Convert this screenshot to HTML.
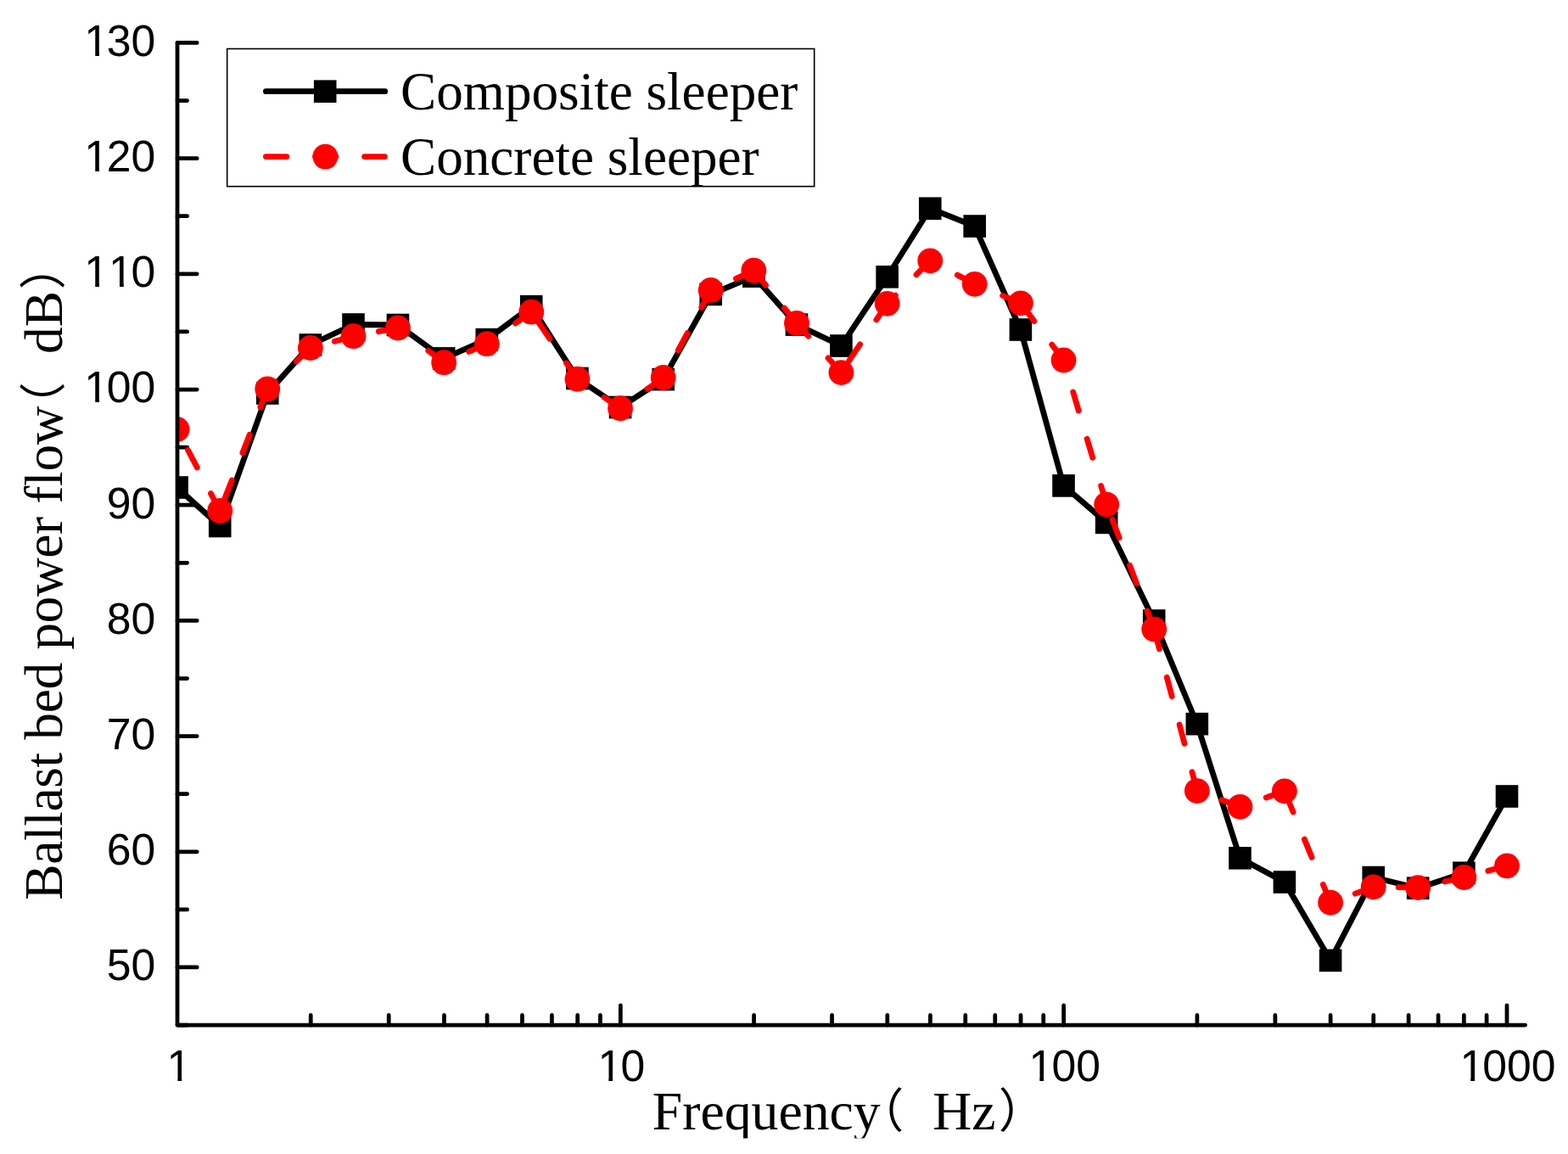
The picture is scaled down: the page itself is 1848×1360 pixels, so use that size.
<!DOCTYPE html>
<html lang="en"><head><meta charset="utf-8"><title>Ballast bed power flow</title>
<style>
html,body{margin:0;padding:0;background:#fff;}
body{width:1848px;height:1360px;overflow:hidden;}
svg{display:block;}
.tk{font-family:"Liberation Sans",sans-serif;font-size:51.7px;fill:#000;font-kerning:none;}
.sf{font-family:"Liberation Serif","Noto Serif CJK SC",serif;fill:#000;font-variant-ligatures:none;font-kerning:none;}
.cj{font-family:"Noto Sans CJK SC","Liberation Serif",sans-serif;}
.ax{stroke:#000;stroke-width:4.75;fill:none;stroke-linecap:round;stroke-linejoin:round;}
.bl{stroke:#000;stroke-width:6.8;fill:none;stroke-linecap:round;stroke-linejoin:round;}
.rl{stroke:#f00;stroke-width:6.8;fill:none;stroke-linecap:round;stroke-linejoin:round;}
</style></head><body>
<svg width="1848" height="1360" viewBox="0 0 1848 1360">
<rect width="1848" height="1360" fill="#fff"/>
<defs><clipPath id="plot"><rect x="209" y="0" width="1639" height="1208.07"/></clipPath></defs>
<g class="ax">
<path d="M209 1208.07h11.6 M209 1139.97h23.2 M209 1071.88h11.6 M209 1003.78h23.2 M209 935.69h11.6 M209 867.59h23.2 M209 799.5h11.6 M209 731.4h23.2 M209 663.31h11.6 M209 595.21h23.2 M209 527.12h11.6 M209 459.02h23.2 M209 390.93h11.6 M209 322.83h23.2 M209 254.74h11.6 M209 186.64h23.2 M209 118.55h11.6 M209 50.45h23.2 M366.24 1208.07v-11.6 M458.21 1208.07v-11.6 M523.47 1208.07v-11.6 M574.09 1208.07v-11.6 M615.45 1208.07v-11.6 M650.42 1208.07v-11.6 M680.71 1208.07v-11.6 M707.43 1208.07v-11.6 M731.33 1208.07v-23.2 M888.57 1208.07v-11.6 M980.54 1208.07v-11.6 M1045.8 1208.07v-11.6 M1096.42 1208.07v-11.6 M1137.78 1208.07v-11.6 M1172.75 1208.07v-11.6 M1203.04 1208.07v-11.6 M1229.76 1208.07v-11.6 M1253.66 1208.07v-23.2 M1410.9 1208.07v-11.6 M1502.87 1208.07v-11.6 M1568.13 1208.07v-11.6 M1618.75 1208.07v-11.6 M1660.11 1208.07v-11.6 M1695.08 1208.07v-11.6 M1725.37 1208.07v-11.6 M1752.09 1208.07v-11.6 M1775.99 1208.07v-23.2"/>
</g>
<g clip-path="url(#plot)">
<polyline class="bl" points="208.6,574.5 259.23,620 315.25,463.5 365.88,406.5 416.51,382.5 468.95,383 523.16,422.4 573.79,400.2 626.23,361.2 680.44,446 731.07,480 781.7,447.1 837.72,346.9 888.35,325.6 938.98,382.6 991.42,407.55 1045.63,326.3 1096.26,245.7 1148.7,266.55 1202.91,388.5 1253.54,572.4 1304.17,615.9 1360.19,731.55 1410.82,853.2 1461.45,1011.3 1513.89,1039.55 1568.1,1131.9 1618.73,1034.05 1671.17,1046.7 1725.38,1028.75 1776.01,938.5"/>
<g fill="#000">
<rect x="195.3" y="561.2" width="26.6" height="26.6"/>
<rect x="245.93" y="606.7" width="26.6" height="26.6"/>
<rect x="301.95" y="450.2" width="26.6" height="26.6"/>
<rect x="352.58" y="393.2" width="26.6" height="26.6"/>
<rect x="403.21" y="369.2" width="26.6" height="26.6"/>
<rect x="455.65" y="369.7" width="26.6" height="26.6"/>
<rect x="509.86" y="409.1" width="26.6" height="26.6"/>
<rect x="560.49" y="386.9" width="26.6" height="26.6"/>
<rect x="612.93" y="347.9" width="26.6" height="26.6"/>
<rect x="667.14" y="432.7" width="26.6" height="26.6"/>
<rect x="717.77" y="466.7" width="26.6" height="26.6"/>
<rect x="768.4" y="433.8" width="26.6" height="26.6"/>
<rect x="824.42" y="333.6" width="26.6" height="26.6"/>
<rect x="875.05" y="312.3" width="26.6" height="26.6"/>
<rect x="925.68" y="369.3" width="26.6" height="26.6"/>
<rect x="978.12" y="394.25" width="26.6" height="26.6"/>
<rect x="1032.33" y="313" width="26.6" height="26.6"/>
<rect x="1082.96" y="232.4" width="26.6" height="26.6"/>
<rect x="1135.4" y="253.25" width="26.6" height="26.6"/>
<rect x="1189.61" y="375.2" width="26.6" height="26.6"/>
<rect x="1240.24" y="559.1" width="26.6" height="26.6"/>
<rect x="1290.87" y="602.6" width="26.6" height="26.6"/>
<rect x="1346.89" y="718.25" width="26.6" height="26.6"/>
<rect x="1397.52" y="839.9" width="26.6" height="26.6"/>
<rect x="1448.15" y="998" width="26.6" height="26.6"/>
<rect x="1500.59" y="1026.25" width="26.6" height="26.6"/>
<rect x="1554.8" y="1118.6" width="26.6" height="26.6"/>
<rect x="1605.43" y="1020.75" width="26.6" height="26.6"/>
<rect x="1657.87" y="1033.4" width="26.6" height="26.6"/>
<rect x="1712.08" y="1015.45" width="26.6" height="26.6"/>
<rect x="1762.71" y="925.2" width="26.6" height="26.6"/>
</g>
<path class="rl" stroke-dasharray="23 34.7" d="M1776.01 1020.35L1725.38 1034M1725.38 1034L1671.17 1046.05M1671.17 1046.05L1618.73 1045.3M1618.73 1045.3L1568.1 1063.75M1568.1 1063.75L1513.89 932.3M1513.89 932.3L1461.45 950.8M1461.45 950.8L1410.82 932.05M1410.82 932.05L1360.19 741.55M1360.19 741.55L1304.17 594.55M1304.17 594.55L1253.54 424.5M1253.54 424.5L1202.91 357.3M1202.91 357.3L1148.7 334.8M1148.7 334.8L1096.26 307.3M1096.26 307.3L1045.63 357.8M1045.63 357.8L991.42 439.05M991.42 439.05L938.98 380.9M938.98 380.9L888.35 318.75M888.35 318.75L837.72 341.95M837.72 341.95L781.7 445M781.7 445L731.07 481.25M731.07 481.25L680.44 446.75M680.44 446.75L626.23 367.7M626.23 367.7L573.79 405.2M573.79 405.2L523.16 427.2M523.16 427.2L468.95 386.5M468.95 386.5L416.51 396.25M416.51 396.25L365.88 410M365.88 410L315.25 458.4M315.25 458.4L259.23 601.9M259.23 601.9L208.6 506"/>
<g fill="#f00">
<circle cx="208.6" cy="506" r="14.9"/>
<circle cx="259.23" cy="601.9" r="14.9"/>
<circle cx="315.25" cy="458.4" r="14.9"/>
<circle cx="365.88" cy="410" r="14.9"/>
<circle cx="416.51" cy="396.25" r="14.9"/>
<circle cx="468.95" cy="386.5" r="14.9"/>
<circle cx="523.16" cy="427.2" r="14.9"/>
<circle cx="573.79" cy="405.2" r="14.9"/>
<circle cx="626.23" cy="367.7" r="14.9"/>
<circle cx="680.44" cy="446.75" r="14.9"/>
<circle cx="731.07" cy="481.25" r="14.9"/>
<circle cx="781.7" cy="445" r="14.9"/>
<circle cx="837.72" cy="341.95" r="14.9"/>
<circle cx="888.35" cy="318.75" r="14.9"/>
<circle cx="938.98" cy="380.9" r="14.9"/>
<circle cx="991.42" cy="439.05" r="14.9"/>
<circle cx="1045.63" cy="357.8" r="14.9"/>
<circle cx="1096.26" cy="307.3" r="14.9"/>
<circle cx="1148.7" cy="334.8" r="14.9"/>
<circle cx="1202.91" cy="357.3" r="14.9"/>
<circle cx="1253.54" cy="424.5" r="14.9"/>
<circle cx="1304.17" cy="594.55" r="14.9"/>
<circle cx="1360.19" cy="741.55" r="14.9"/>
<circle cx="1410.82" cy="932.05" r="14.9"/>
<circle cx="1461.45" cy="950.8" r="14.9"/>
<circle cx="1513.89" cy="932.3" r="14.9"/>
<circle cx="1568.1" cy="1063.75" r="14.9"/>
<circle cx="1618.73" cy="1045.3" r="14.9"/>
<circle cx="1671.17" cy="1046.05" r="14.9"/>
<circle cx="1725.38" cy="1034" r="14.9"/>
<circle cx="1776.01" cy="1020.35" r="14.9"/>
</g>
</g>
<path class="ax" d="M209 50.45V1208.07H1797.61"/>
<defs><clipPath id="c1"><rect x="-10" y="-60" width="260" height="55.54"/><rect x="15.3" y="-8" width="4.77" height="12"/><rect x="29.55" y="-8" width="240" height="12"/></clipPath><clipPath id="c11"><rect x="-10" y="-60" width="260" height="55.54"/><rect x="15.3" y="-8" width="4.77" height="12"/><rect x="44.05" y="-8" width="4.77" height="12"/><rect x="58.31" y="-8" width="240" height="12"/></clipPath><clipPath id="c2"><rect x="-10" y="-60" width="260" height="55.54"/><rect x="14.7" y="-8" width="4.77" height="12"/><rect x="29.55" y="-8" width="240" height="12"/></clipPath></defs>
<text class="tk" x="125.69" y="1155.32">50</text>
<text class="tk" x="125.69" y="1019.13">60</text>
<text class="tk" x="125.69" y="882.94">70</text>
<text class="tk" x="125.69" y="746.75">80</text>
<text class="tk" x="125.69" y="610.56">90</text>
<g transform="translate(96.94 474.37)" clip-path="url(#c1)"><text class="tk" x="0" y="0" dx="2.4 -2.4">100</text></g>
<g transform="translate(96.94 338.18)" clip-path="url(#c11)"><text class="tk" x="0" y="0" dx="2.4 0 -2.4">110</text></g>
<g transform="translate(96.94 201.99)" clip-path="url(#c1)"><text class="tk" x="0" y="0" dx="2.4 -2.4">120</text></g>
<g transform="translate(96.94 65.8)" clip-path="url(#c1)"><text class="tk" x="0" y="0" dx="2.4 -2.4">130</text></g>
<g transform="translate(194.72 1273.8)" clip-path="url(#c2)"><text class="tk" x="0" y="0" dx="1.8">1</text></g>
<g transform="translate(702.68 1273.8)" clip-path="url(#c2)"><text class="tk" x="0" y="0" dx="1.8 -1.8">10</text></g>
<g transform="translate(1210.63 1273.8)" clip-path="url(#c2)"><text class="tk" x="0" y="0" dx="1.8 -1.8">100</text></g>
<g transform="translate(1718.58 1273.8)" clip-path="url(#c2)"><text class="tk" x="0" y="0" dx="1.8 -1.8">1000</text></g>
<defs><clipPath id="cx"><rect x="700" y="1260" width="600" height="81.6"/></clipPath></defs>
<text class="sf" clip-path="url(#cx)" font-size="63.7" y="1330.7" xml:space="preserve"><tspan x="768.8">Frequency</tspan><tspan class="cj" font-size="55.3" x="1010.07" y="1328.7">（</tspan><tspan x="1083.44" y="1330.7"> Hz</tspan><tspan class="cj" font-size="55.3" x="1176.73" y="1328.7">）</tspan></text>
<g transform="translate(73.2 1060.7) rotate(-90)"><text class="sf" font-size="63.4" y="0" xml:space="preserve"><tspan x="0" textLength="582.2" lengthAdjust="spacing">Ballast bed power flow</tspan><tspan class="cj" font-size="55.3" x="555.27" y="-2.0">（</tspan><tspan x="627.93" y="0"> dB</tspan><tspan class="cj" font-size="55.3" x="719.53" y="-2.0">）</tspan></text></g>
<rect x="267.7" y="57.5" width="692" height="162.2" fill="#fff" stroke="#000" stroke-width="1.6"/>
<path class="bl" d="M313.4 107.7H453.7"/>
<rect x="369.9" y="94.4" width="26.6" height="26.6" fill="#000"/>
<path class="rl" stroke-dasharray="24.4 33.7" d="M313.4 184.6H453.4"/>
<circle cx="383.4" cy="184.6" r="14.9" fill="#f00"/>
<text class="sf" font-size="63.15" x="472.1" y="129.1">Composite sleeper</text>
<text class="sf" font-size="63.15" x="472.1" y="206.2">Concrete sleeper</text>
</svg>
</body></html>
